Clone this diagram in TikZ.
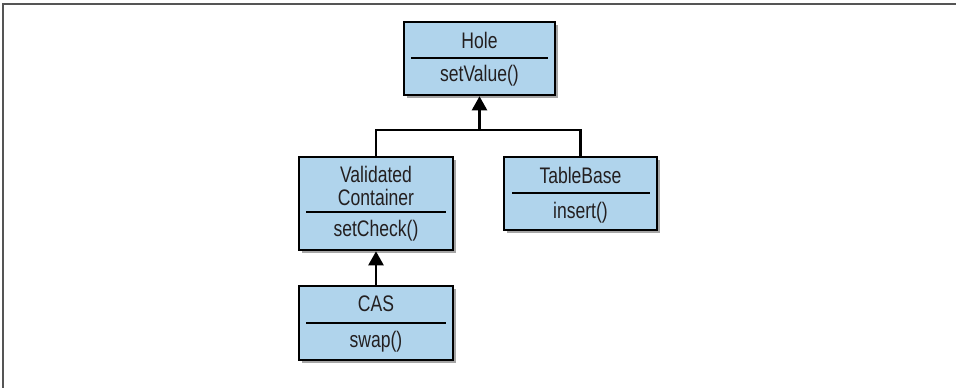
\documentclass[tikz,border=0pt]{standalone}
\usepackage{fontspec}
\setmainfont{Liberation Sans}[FakeStretch=0.78]
\usetikzlibrary{arrows.meta,shadows}
\definecolor{boxblue}{HTML}{B0D4EC}
\definecolor{txt}{HTML}{231F20}
\definecolor{framegray}{HTML}{555555}
\begin{document}
\begin{tikzpicture}[x=1pt,y=-1pt,
  classbox/.style={draw=black, line width=2.6pt, fill=boxblue, inner sep=0pt,
    drop shadow={shadow xshift=3pt, shadow yshift=-3pt, opacity=0.35, fill=black}},
  lbl/.style={text=txt, font=\fontsize{22.5}{22.5}\selectfont, inner sep=0pt, align=center},
  divider/.style={draw=black, line width=1.8pt},
  conn/.style={draw=black, line width=2.4pt},
  inh/.style={conn, -{Triangle[length=14pt,width=15pt]}},
  frameline/.style={draw=framegray, line width=2pt}]
\useasboundingbox (0,0) rectangle (956,388);
\draw[frameline] (3,388) -- (3,3.5) -- (956,3.5);

% Hole
\node[classbox, minimum width=151pt, minimum height=73pt] (hole) at (479.5,58.5) {};
\node[lbl] (holeName) at (479.5,40) {Hole};
\node[lbl] (holeOp) at (479.5,76) {setValue()};
\coordinate (holeDL) at (411,58);
\coordinate (holeDR) at (548,58);
\draw[divider] (holeDL) -- (holeDR);

% Validated Container
\node[classbox, minimum width=154pt, minimum height=93pt] (vc) at (376,203.5) {};
\node[lbl] (vcName) at (376,186) {Validated\\Container};
\node[lbl] (vcOp) at (376,231) {setCheck()};
\coordinate (vcDL) at (306,212);
\coordinate (vcDR) at (446,212);
\draw[divider] (vcDL) -- (vcDR);

% TableBase
\node[classbox, minimum width=153pt, minimum height=73pt] (tb) at (580.5,193.5) {};
\node[lbl] (tbName) at (580.5,175) {TableBase};
\node[lbl] (tbOp) at (580.5,213) {insert()};
\coordinate (tbDL) at (512,193);
\coordinate (tbDR) at (650,193);
\draw[divider] (tbDL) -- (tbDR);

% CAS
\node[classbox, minimum width=154pt, minimum height=74pt] (cas) at (376,323) {};
\node[lbl] (casName) at (376,304) {CAS};
\node[lbl] (casOp) at (376,342) {swap()};
\coordinate (casDL) at (306,323);
\coordinate (casDR) at (446,323);
\draw[divider] (casDL) -- (casDR);

% connectors
\coordinate (junction) at (479.5,130);
\draw[inh] (junction) -- (hole.south);
\draw[conn] (vc.north) -- (vc.north |- junction) -- (tb.north |- junction) -- (tb.north);
\draw[inh] (cas.north) -- (vc.south);
\end{tikzpicture}
\end{document}
